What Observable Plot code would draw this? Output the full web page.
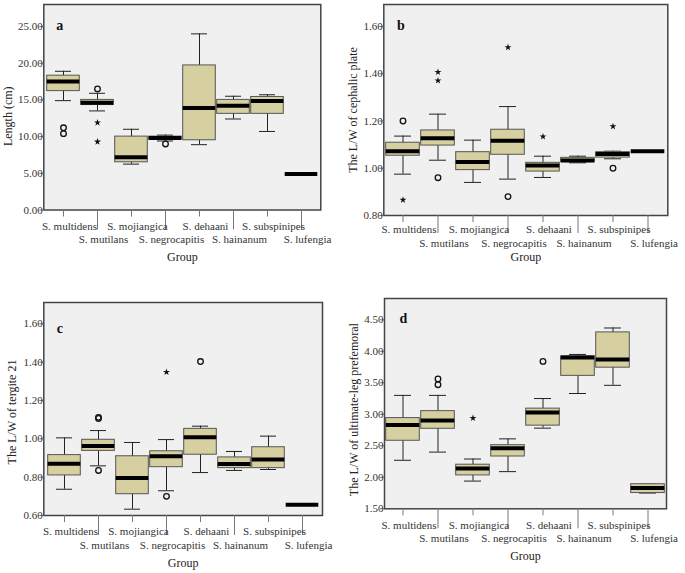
<!DOCTYPE html>
<html>
<head>
<meta charset="utf-8">
<script src="https://cdn.jsdelivr.net/npm/d3@7"></script>
<script src="https://cdn.jsdelivr.net/npm/@observablehq/plot@0.6"></script>
<style>
  body { margin: 0; background: #fff; }
  #wrap { position: relative; width: 685px; height: 573px; overflow: hidden; background: #fff; }
</style>
</head>
<body>
<div id="wrap"></div>
<script>
// ---- categories ----
const groups = ["S. multidens", "S. mutilans", "S. mojiangica", "S. negrocapitis",
                "S. dehaani", "S. hainanum", "S. subspinipes", "S. lufengia"];

// ---- panel a : Length (cm) ----
const lenLo  = [14.9, 13.5, 6.25, 9.4, 8.9, 12.4, 10.7, 4.9];
const lenQ1  = [16.2, 14.3, 6.5, 9.6, 9.5, 13.1, 13.1, 4.9];
const lenMed = [17.5, 14.6, 7.2, 9.8, 13.9, 14.2, 14.85, 4.9];
const lenQ3  = [18.3, 15.0, 10.0, 10.0, 19.7, 15.0, 15.4, 4.9];
const lenHi  = [18.9, 15.9, 11.0, 10.2, 24.0, 15.5, 15.7, 4.9];
const lenOut = [[0, 11.2, "o"], [0, 10.4, "o"], [1, 16.5, "o"], [1, 11.9, "*"], [1, 9.3, "*"], [3, 9.0, "o"]];
const lenTicks = [0, 5, 10, 15, 20, 25];

// ---- panel b : L/W of cephalic plate ----
const cpLo  = [0.975, 1.034, 0.94, 0.954, 0.961, 1.023, 1.04, 1.072];
const cpQ1  = [1.053, 1.096, 0.992, 1.057, 0.986, 1.026, 1.045, 1.072];
const cpMed = [1.072, 1.127, 1.026, 1.116, 1.012, 1.033, 1.06, 1.072];
const cpQ3  = [1.108, 1.16, 1.068, 1.163, 1.023, 1.044, 1.068, 1.072];
const cpHi  = [1.136, 1.229, 1.119, 1.261, 1.051, 1.051, 1.072, 1.072];
const cpOut = [[0, 1.20, "o"], [0, 0.866, "*"], [1, 1.407, "*"], [1, 1.371, "*"], [1, 0.96, "o"],
               [3, 1.512, "*"], [3, 0.88, "o"], [4, 1.134, "*"], [6, 1.177, "*"], [6, 1.0, "o"]];
const cpTicks = [0.8, 1.0, 1.2, 1.4, 1.6];

// ---- panel c : L/W of tergite 21 ----
const tgLo  = [0.737, 0.859, 0.633, 0.729, 0.824, 0.835, 0.84, 0.656];
const tgQ1  = [0.809, 0.937, 0.711, 0.852, 0.917, 0.847, 0.847, 0.656];
const tgMed = [0.87, 0.962, 0.795, 0.909, 1.008, 0.868, 0.892, 0.656];
const tgQ3  = [0.915, 0.995, 0.909, 0.935, 1.052, 0.903, 0.956, 0.656];
const tgHi  = [1.005, 1.043, 0.981, 0.996, 1.066, 0.934, 1.014, 0.656];
const tgOut = [[1, 1.112, "o"], [1, 1.106, "o"], [1, 0.835, "o"], [3, 1.348, "*"], [3, 0.70, "o"], [4, 1.403, "o"]];
const tgTicks = [0.6, 0.8, 1.0, 1.2, 1.4, 1.6];

// ---- panel d : L/W of ultimate-leg prefemoral ----
const plLo  = [2.27, 2.40, 1.94, 2.09, 2.78, 3.33, 3.46, 1.75];
const plQ1  = [2.58, 2.77, 2.03, 2.33, 2.82, 3.61, 3.74, 1.75];
const plMed = [2.83, 2.90, 2.14, 2.46, 3.03, 3.90, 3.87, 1.83];
const plQ3  = [2.94, 3.05, 2.20, 2.51, 3.09, 3.92, 4.30, 1.89];
const plHi  = [3.30, 3.30, 2.29, 2.61, 3.25, 3.95, 4.37, 1.89];
const plOut = [[1, 3.56, "o"], [1, 3.47, "o"], [2, 2.94, "*"], [4, 3.84, "o"]];
const plTicks = [1.5, 2.0, 2.5, 3.0, 3.5, 4.0, 4.5];

const panels = [
  {letter: "a", title: "Length (cm)", lo: lenLo, q1: lenQ1, med: lenMed, q3: lenQ3, hi: lenHi, out: lenOut, ticks: lenTicks,
   domain: [0, 28], left: 0, top: 0, width: 340, height: 275, ml: 43.3, mr: 19.7, mt: 4, mb: 65.5,
   row1: 12, row2: 25, longTick: 20, titleDx: -36, titleDy: 9, groupDy: 47.5, letterDx: 16, letterDy: 21},
  {letter: "b", title: "The L/W of cephalic plate", lo: cpLo, q1: cpQ1, med: cpMed, q3: cpQ3, hi: cpHi, out: cpOut, ticks: cpTicks,
   domain: [0.8, 1.693], left: 340, top: 0, width: 345, height: 275, ml: 43.3, mr: 17.7, mt: 4, mb: 60,
   row1: 10, row2: 23.5, longTick: 18, titleDx: -31, titleDy: 0, groupDy: 42, letterDx: 17, letterDy: 21},
  {letter: "c", title: "The L/W of tergite 21", lo: tgLo, q1: tgQ1, med: tgMed, q3: tgQ3, hi: tgHi, out: tgOut, ticks: tgTicks,
   domain: [0.6, 1.711], left: 0, top: 280, width: 340, height: 293, ml: 43.3, mr: 18, mt: 22, mb: 58,
   row1: 11.5, row2: 25.5, longTick: 20, titleDx: -31.5, titleDy: 3, groupDy: 48, letterDx: 16, letterDy: 26},
  {letter: "d", title: "The L/W of ultimate-leg prefemoral", lo: plLo, q1: plQ1, med: plMed, q3: plQ3, hi: plHi, out: plOut, ticks: plTicks,
   domain: [1.5, 4.838], left: 340, top: 280, width: 345, height: 293, ml: 44, mr: 19, mt: 18, mb: 64.7,
   row1: 12, row2: 25.5, longTick: 20, titleDx: -30, titleDy: 6, groupDy: 47.7, letterDx: 19, letterDy: 20}
];

const evenG = groups.filter((d, i) => i % 2 === 0);
const oddG = groups.filter((d, i) => i % 2 === 1);

function makePanel(p) {
  const rows = groups.map((g, i) => ({group: g, lo: p.lo[i], q1: p.q1[i], med: p.med[i], q3: p.q3[i], hi: p.hi[i]}));
  const outs = p.out.map(([i, v, k]) => ({group: groups[i], value: v, kind: k}));
  const circles = outs.filter(d => d.kind === "o");
  const stars = outs.filter(d => d.kind === "*");
  const fmt = d3.format(".2f");
  return Plot.plot({
    width: p.width, height: p.height,
    marginLeft: p.ml, marginRight: p.mr, marginTop: p.mt, marginBottom: p.mb,
    style: {fontFamily: "Liberation Serif", fontSize: "11px", background: "transparent", overflow: "visible", color: "#222"},
    x: {type: "band", domain: groups, padding: 0, label: null},
    y: {domain: p.domain, label: null},
    marks: [
      Plot.frame({fill: "#f0f0f0", stroke: null}),
      Plot.ruleX(rows, {x: "group", y1: "lo", y2: "hi", stroke: "#222", strokeWidth: 1}),
      Plot.tickY(rows, {x: "group", y: "lo", insetLeft: 9, insetRight: 9, stroke: "#222", strokeWidth: 1}),
      Plot.tickY(rows, {x: "group", y: "hi", insetLeft: 9, insetRight: 9, stroke: "#222", strokeWidth: 1}),
      Plot.barY(rows, {x: "group", y1: "q1", y2: "q3", fill: "#d6cf9f", stroke: "#555", strokeWidth: 1, insetLeft: 0.7, insetRight: 0.7}),
      Plot.tickY(rows, {x: "group", y: "med", stroke: "#000", strokeWidth: 4, insetLeft: 0.7, insetRight: 0.7}),
      Plot.dot(circles, {x: "group", y: "value", r: 2.8, stroke: "#111", strokeWidth: 1.3, fill: "none"}),
      Plot.dot(stars, {x: "group", y: "value", symbol: "star", r: 2.2, fill: "#111", stroke: null}),
      Plot.frame({stroke: "#444", strokeWidth: 1.5}),
      Plot.axisY({ticks: p.ticks, tickFormat: fmt, tickSize: 4, tickPadding: -3, stroke: "#777", fill: "#333", fontSize: 11, label: null}),
      Plot.axisX({ticks: evenG, tickSize: 7, tickFormat: () => "", stroke: "#777", label: null}),
      Plot.axisX({ticks: oddG, tickSize: p.longTick, tickFormat: () => "", stroke: "#777", label: null}),
      Plot.axisX({ticks: evenG, tickSize: 0, tickPadding: p.row1, dx: 6, fill: "#333", fontSize: 11, label: null}),
      Plot.axisX({ticks: oddG, tickSize: 0, tickPadding: p.row2, dx: 6, fill: "#333", fontSize: 11, label: null}),
      Plot.text([p.title], {frameAnchor: "left", rotate: -90, dx: p.titleDx, dy: p.titleDy, textAnchor: "middle", lineAnchor: "middle", fontSize: 12, fill: "#222"}),
      Plot.text(["Group"], {frameAnchor: "bottom", dy: p.groupDy, textAnchor: "middle", lineAnchor: "middle", fontSize: 12, fill: "#222"}),
      Plot.text([p.letter], {frameAnchor: "top-left", dx: p.letterDx, dy: p.letterDy, textAnchor: "middle", lineAnchor: "middle", fontSize: 14, fontWeight: "bold", fill: "#111"})
    ]
  });
}

const wrap = document.getElementById("wrap");
for (const p of panels) {
  const el = makePanel(p);
  el.style.position = "absolute";
  el.style.left = p.left + "px";
  el.style.top = p.top + "px";
  wrap.appendChild(el);
}
</script>
</body>
</html>
